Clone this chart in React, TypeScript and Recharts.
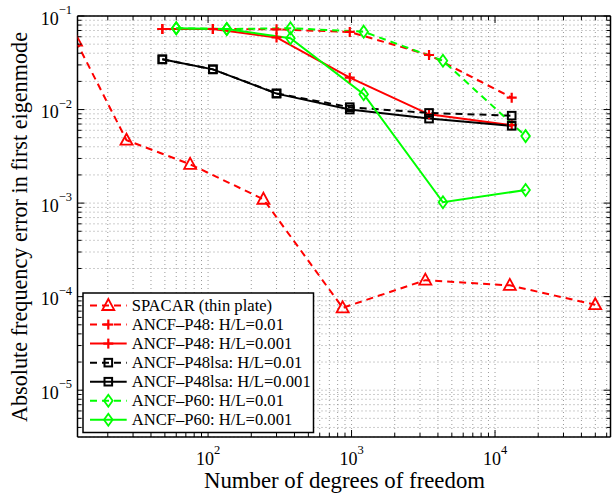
import { CartesianGrid, Legend, Line, LineChart, XAxis, YAxis } from "recharts";

// degrees of freedom
const X_SPACAR = [12, 27, 75, 243, 867, 3267, 12675, 49923];
const X_P48 = [48, 108, 300, 972, 3468, 13068];
const X_P60 = [60, 135, 375, 1215, 4335, 16335];

// absolute frequency error
const Y_SPACAR = [0.054, 0.0047, 0.0026, 0.0011, 7.6e-5, 1.5e-4, 1.32e-4, 8.2e-5];
const Y_P48_01 = [0.0726, 0.0726, 0.072, 0.0675, 0.0383, 0.0134];
const Y_P48_001 = [0.0726, 0.0726, 0.059, 0.0219, 0.0089, 0.0068];
const Y_LSA_01 = [0.0344, 0.0269, 0.0149, 0.0106, 0.0092, 0.0086];
const Y_LSA_001 = [0.0344, 0.0269, 0.0148, 0.01, 0.008, 0.0067];
const Y_P60_01 = [0.074, 0.0726, 0.074, 0.068, 0.0333, 0.0052];
const Y_P60_001 = [0.074, 0.0726, 0.0578, 0.0146, 0.00102, 0.00138];

const X_MAJOR = [100, 1000, 10000];
const Y_MAJOR = [1e-5, 1e-4, 1e-3, 1e-2, 1e-1];
const X_DOMAIN = [12.3, 63800];
const Y_DOMAIN = [3.16e-6, 0.1];

const FONT = '"Liberation Serif", "Times New Roman", serif';
const RED = "#ff0000";
const GREEN = "#00ff00";
const BLACK = "#000000";

type MarkerKind = "triangle" | "plus" | "square" | "diamond";

const zip = (xs: number[], ys: number[]) => xs.map((x, i) => ({ x, y: ys[i] }));

const series = [
  { name: "SPACAR (thin plate)", data: zip(X_SPACAR, Y_SPACAR), color: RED, dashed: true, marker: "triangle" as MarkerKind },
  { name: "ANCF–P48: H/L=0.01", data: zip(X_P48, Y_P48_01), color: RED, dashed: true, marker: "plus" as MarkerKind },
  { name: "ANCF–P48: H/L=0.001", data: zip(X_P48, Y_P48_001), color: RED, dashed: false, marker: "plus" as MarkerKind },
  { name: "ANCF–P48lsa: H/L=0.01", data: zip(X_P48, Y_LSA_01), color: BLACK, dashed: true, marker: "square" as MarkerKind },
  { name: "ANCF–P48lsa: H/L=0.001", data: zip(X_P48, Y_LSA_001), color: BLACK, dashed: false, marker: "square" as MarkerKind },
  { name: "ANCF–P60: H/L=0.01", data: zip(X_P60, Y_P60_01), color: GREEN, dashed: true, marker: "diamond" as MarkerKind },
  { name: "ANCF–P60: H/L=0.001", data: zip(X_P60, Y_P60_001), color: GREEN, dashed: false, marker: "diamond" as MarkerKind },
];

// minor + major tick positions inside the domain
function logTicks(lo: number, hi: number) {
  const out: number[] = [];
  for (let e = Math.floor(Math.log10(lo)); e <= Math.ceil(Math.log10(hi)); e++) {
    for (let m = 1; m <= 9; m++) {
      const v = Number((m * Math.pow(10, e)).toPrecision(6));
      if (v >= lo && v <= hi) out.push(v);
    }
  }
  return out;
}
const X_TICKS = logTicks(X_DOMAIN[0], X_DOMAIN[1]);
const Y_TICKS = logTicks(Y_DOMAIN[0], Y_DOMAIN[1]);

const isMajor = (v: number, majors: number[]) =>
  majors.some((m) => Math.abs(Math.log10(m) - Math.log10(v)) < 1e-6);
const expOf = (v: number) => Math.round(Math.log10(v));

function Marker({ kind, cx, cy, color }: { kind: MarkerKind; cx: number; cy: number; color: string }) {
  const sw = 1.8;
  if (kind === "triangle")
    return <polygon points={`${cx},${cy - 6.5} ${cx - 6},${cy + 4.5} ${cx + 6},${cy + 4.5}`} fill="none" stroke={color} strokeWidth={sw} />;
  if (kind === "plus")
    return (
      <g stroke={color} strokeWidth={2.2}>
        <line x1={cx - 5} x2={cx + 5} y1={cy} y2={cy} />
        <line x1={cx} x2={cx} y1={cy - 5} y2={cy + 5} />
      </g>
    );
  if (kind === "square")
    return <rect x={cx - 3.8} y={cy - 3.8} width={7.6} height={7.6} fill="none" stroke={color} strokeWidth={2} />;
  return <polygon points={`${cx},${cy - 6} ${cx + 4.3},${cy} ${cx},${cy + 6} ${cx - 4.3},${cy}`} fill="none" stroke={color} strokeWidth={sw} />;
}

const BottomTick = (p: any) => {
  const major = isMajor(p.payload.value, X_MAJOR);
  return (
    <g>
      <line x1={p.x} x2={p.x} y1={p.y} y2={p.y - (major ? 7 : 4)} stroke="#000" strokeWidth={1} />
      {major && (
        <text x={p.x} y={p.y + 27.5} textAnchor="middle" fontFamily={FONT} fontSize={18} fill="#000">
          10<tspan dy={-10.5} fontSize={12.5}>{expOf(p.payload.value)}</tspan>
        </text>
      )}
    </g>
  );
};

const TopTick = (p: any) => {
  const major = isMajor(p.payload.value, X_MAJOR);
  return <line x1={p.x} x2={p.x} y1={p.y} y2={p.y + (major ? 7 : 4)} stroke="#000" strokeWidth={1} />;
};

const LeftTick = (p: any) => {
  const major = isMajor(p.payload.value, Y_MAJOR);
  return (
    <g>
      <line x1={p.x} x2={p.x + (major ? 7 : 4)} y1={p.y} y2={p.y} stroke="#000" strokeWidth={1} />
      {major && (
        <text x={p.x - 5.5} y={p.y + 8.5} textAnchor="end" fontFamily={FONT} fontSize={18} fill="#000">
          10<tspan dy={-10.5} fontSize={12.5}>{"−" + Math.abs(expOf(p.payload.value))}</tspan>
        </text>
      )}
    </g>
  );
};

const RightTick = (p: any) => {
  const major = isMajor(p.payload.value, Y_MAJOR);
  return <line x1={p.x} x2={p.x - (major ? 7 : 4)} y1={p.y} y2={p.y} stroke="#000" strokeWidth={1} />;
};

const LegendBox = () => (
  <svg width={233} height={142} style={{ display: "block" }}>
    <rect x={1} y={1} width={230.5} height={139.5} fill="#fff" stroke="#000" strokeWidth={1.5} />
    {series.map((s, i) => {
      const cy = 13.5 + i * 19.05;
      return (
        <g key={s.name}>
          <line x1={8} x2={44.7} y1={cy} y2={cy} stroke={s.color} strokeWidth={2} strokeDasharray={s.dashed ? "7 5" : undefined} />
          <Marker kind={s.marker} cx={26.3} cy={cy} color={s.color} />
          <text x={49.7} y={cy + 5.6} fontFamily={FONT} fontSize={16.6} fill="#000">
            {s.name}
          </text>
        </g>
      );
    })}
  </svg>
);

export default function App() {
  const axisLine = { stroke: "#000", strokeWidth: 1.5 };
  return (
    <div style={{ position: "absolute", left: 0, top: 0, background: "#fff" }}>
      <LineChart width={612} height={498} margin={{ top: 15, right: 0.5, bottom: 60, left: 76.5 }}>
        <CartesianGrid stroke="#9a9a9a" strokeDasharray="1 3" strokeWidth={1} />
        <XAxis
          dataKey="x"
          type="number"
          scale="log"
          domain={X_DOMAIN}
          allowDataOverflow
          ticks={X_TICKS}
          interval={0}
          height={1}
          tickSize={0}
          tickMargin={0}
          tick={BottomTick}
          axisLine={axisLine}
          tickLine={false}
          label={{
            content: () => (
              <text x={344.5} y={488} textAnchor="middle" fontFamily={FONT} fontSize={22.8} fill="#000">
                Number of degrees of freedom
              </text>
            ),
          }}
        />
        <XAxis
          xAxisId="top"
          orientation="top"
          dataKey="x"
          type="number"
          scale="log"
          domain={X_DOMAIN}
          allowDataOverflow
          ticks={X_TICKS}
          interval={0}
          height={1}
          tickSize={0}
          tickMargin={0}
          tick={TopTick}
          axisLine={axisLine}
          tickLine={false}
        />
        <YAxis
          type="number"
          scale="log"
          domain={Y_DOMAIN}
          allowDataOverflow
          ticks={Y_TICKS}
          interval={0}
          width={1}
          tickSize={0}
          tickMargin={0}
          tick={LeftTick}
          axisLine={axisLine}
          tickLine={false}
          label={{
            content: () => (
              <text x={27} y={227} transform="rotate(-90 27 227)" textAnchor="middle" fontFamily={FONT} fontSize={22.2} fill="#000">
                Absolute frequency error in first eigenmode
              </text>
            ),
          }}
        />
        <YAxis
          yAxisId="right"
          orientation="right"
          type="number"
          scale="log"
          domain={Y_DOMAIN}
          allowDataOverflow
          ticks={Y_TICKS}
          interval={0}
          width={1}
          tickSize={0}
          tickMargin={0}
          tick={RightTick}
          axisLine={axisLine}
          tickLine={false}
        />
        {series.map((s) => (
          <Line
            key={s.name}
            data={s.data}
            dataKey="y"
            name={s.name}
            type="linear"
            stroke={s.color}
            strokeWidth={2}
            strokeDasharray={s.dashed ? "7 5" : undefined}
            isAnimationActive={false}
            activeDot={false}
            dot={(d: any) => (
              <g key={`${s.name}-${d.index}`}>
                <Marker kind={s.marker} cx={d.cx} cy={d.cy} color={s.color} />
              </g>
            )}
          />
        ))}
        <Legend
          layout="horizontal"
          verticalAlign="middle"
          align="center"
          content={LegendBox}
          wrapperStyle={{ left: 82, top: 291.5, width: 233, height: 142 }}
        />
      </LineChart>
    </div>
  );
}
